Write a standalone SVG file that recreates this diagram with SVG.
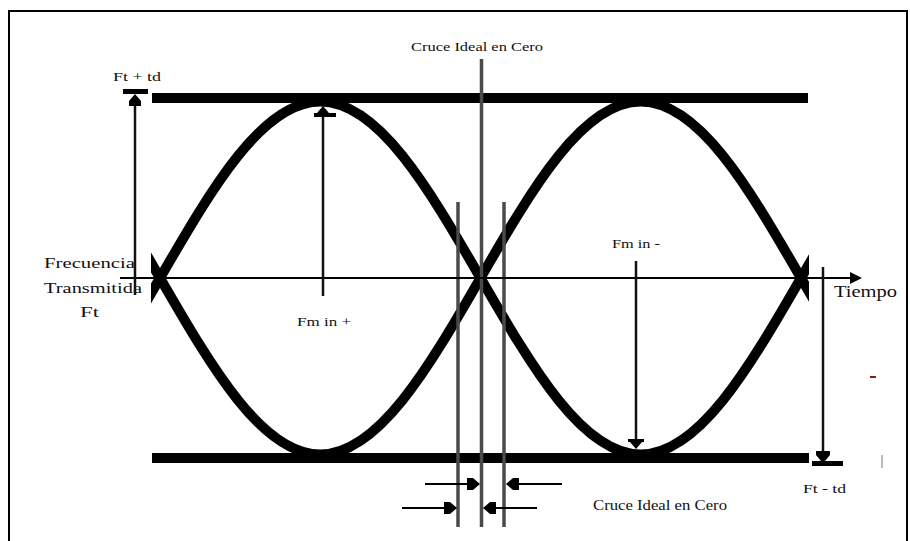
<svg xmlns="http://www.w3.org/2000/svg" width="910" height="541" viewBox="0 0 910 541">
<style>
  .bar { fill: #000; }
  .eye { fill: none; stroke: #000; stroke-width: 10; stroke-linejoin: round; }
  .ln { stroke: #000; stroke-width: 2; fill: none; }
  .vln { stroke: #111; stroke-width: 2.5; fill: none; }
  .gr { stroke: #4a4a4a; stroke-width: 3.5; fill: none; }
  .hd { fill: #000; }
</style>
<defs>
  <clipPath id="eyeclip"><rect x="151" y="80" width="658" height="400"/></clipPath>
</defs>
<rect x="0" y="0" width="910" height="541" fill="#fff"/>
<rect id="frame" x="9" y="11" width="898" height="545" fill="none" stroke="#000" stroke-width="2"/>

<g id="bars">
  <rect class="bar" x="152" y="93" width="656" height="10"/>
  <rect class="bar" x="152" y="453" width="657" height="10"/>
</g>

<g id="eye" clip-path="url(#eyeclip)">
  <path class="eye" d="M145 304 L160 278 C212.26 187.58 262.26 101.5 320.25 101.5 C378.25 101.5 428.24 187.58 480.5 278 C532.76 368.42 582.76 454.5 640.75 454.5 C698.75 454.5 748.74 368.42 801 278 L816 252"/>
  <path class="eye" d="M145 252 L160 278 C212.26 368.42 262.26 454.5 320.25 454.5 C378.25 454.5 428.24 368.42 480.5 278 C532.76 187.58 582.76 101.5 640.75 101.5 C698.75 101.5 748.74 187.58 801 278 L816 304"/>
</g>

<g id="crossing-lines">
  <line class="gr" x1="481.5" y1="59" x2="481.5" y2="527" stroke="#3a3a3a" stroke-width="4"/>
  <line class="gr" x1="458" y1="202" x2="458" y2="527"/>
  <line class="gr" x1="504" y1="202" x2="504" y2="527"/>
</g>

<g id="connectors">
  <line class="ln" x1="120" y1="278" x2="852" y2="278"/>
  <polygon class="hd" points="850,272 862,278 850,284"/>
  <line class="vln" x1="135" y1="100" x2="135" y2="295"/>
  <rect class="hd" x="123" y="89" width="25" height="5"/>
  <polygon class="hd" points="135,94 141,101 141,106 129,106 129,101"/>
  <line class="vln" x1="323" y1="112" x2="323" y2="296"/>
  <polygon class="hd" points="323,106 329,113 317,113"/>
  <rect class="hd" x="314" y="113" width="22" height="4"/>
  <line class="vln" x1="636" y1="261" x2="636" y2="442" stroke-width="3.5"/>
  <rect class="hd" x="628" y="439" width="16" height="3"/>
  <polygon class="hd" points="630,442 642,442 636,449"/>
  <line class="vln" x1="823" y1="267" x2="823" y2="452"/>
  <polygon class="hd" points="816,451 830,451 830,455 825,461 821,461 816,455"/>
  <rect class="hd" x="812" y="461" width="31" height="5"/>
  <line class="ln" x1="425" y1="484" x2="470" y2="484"/>
  <polygon class="hd" points="467,478 473,478 480,484 473,490 467,490"/>
  <line class="ln" x1="562" y1="484" x2="515" y2="484"/>
  <polygon class="hd" points="519,478 513,478 506,484 513,490 519,490"/>
  <line class="ln" x1="402" y1="508" x2="447" y2="508"/>
  <polygon class="hd" points="444,502 450,502 457,508 450,514 444,514"/>
  <line class="ln" x1="537" y1="508" x2="492" y2="508"/>
  <polygon class="hd" points="496,502 490,502 483,508 490,514 496,514"/>
</g>

<g id="labels" font-family="'Liberation Serif', 'Times New Roman', serif" fill="#111">
  <text x="411" y="51" font-size="12.5" textLength="132" lengthAdjust="spacingAndGlyphs">Cruce Ideal en Cero</text>
  <text x="113" y="80.5" font-size="12.5" textLength="48" lengthAdjust="spacingAndGlyphs">Ft + td</text>
  <text x="44" y="268" font-size="15" textLength="91" lengthAdjust="spacingAndGlyphs">Frecuencia</text>
  <text x="44" y="293" font-size="15" textLength="98" lengthAdjust="spacingAndGlyphs">Transmitida</text>
  <text x="80" y="317" font-size="15" textLength="19" lengthAdjust="spacingAndGlyphs">Ft</text>
  <text x="834" y="297" font-size="16.5" textLength="63" lengthAdjust="spacingAndGlyphs">Tiempo</text>
  <text x="612" y="248" font-size="12.5" textLength="48" lengthAdjust="spacingAndGlyphs">Fm in -</text>
  <text x="297" y="326" font-size="12.5" textLength="54" lengthAdjust="spacingAndGlyphs">Fm in +</text>
  <text x="803" y="493" font-size="12.5" textLength="43" lengthAdjust="spacingAndGlyphs">Ft - td</text>
  <text x="593" y="510" font-size="14" textLength="134" lengthAdjust="spacingAndGlyphs">Cruce Ideal en Cero</text>
</g>

<g id="marks">
  <rect x="870" y="376" width="6" height="2" fill="#8b1a1a"/>
  <rect x="881" y="455" width="2" height="13" fill="#bbb"/>
</g>
</svg>
